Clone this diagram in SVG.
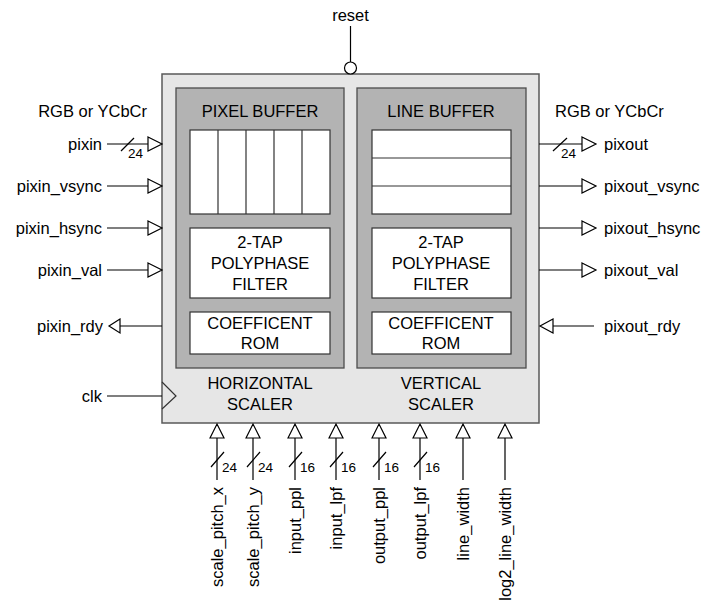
<svg xmlns="http://www.w3.org/2000/svg" width="716" height="601" viewBox="0 0 716 601">
<style>
text{font-family:"Liberation Sans",Arial,sans-serif;font-size:16.5px;fill:#000}
.sm{font-size:13.5px}
.c{text-anchor:middle}
.e{text-anchor:end}
.w{stroke:#000;stroke-width:1.2;fill:none}
.tri{stroke:#000;stroke-width:1.2;fill:#fff}
.outer{fill:#e6e6e6;stroke:#595959;stroke-width:1.5}
.inner{fill:#b3b3b3;stroke:#4d4d4d;stroke-width:1.3}
.wb{fill:#fff;stroke:#333;stroke-width:1.2}
</style>
<rect width="716" height="601" fill="#fff"/>
<g id="scaler">
<rect class="outer" x="162" y="74" width="377" height="349"/>
<path class="w" d="M162,382 L176,396 L162,409" style="stroke:#333"/>
<text class="c" x="260" y="389">HORIZONTAL</text>
<text class="c" x="260" y="410">SCALER</text>
<text class="c" x="441" y="389">VERTICAL</text>
<text class="c" x="441" y="410">SCALER</text>
</g>
<g id="horizontal">
<rect class="inner" x="176" y="88" width="168" height="280"/>
<text class="c" x="260" y="117">PIXEL BUFFER</text>
<rect class="wb" x="190" y="130" width="140" height="84"/>
<path class="w" d="M218,130V214M246,130V214M274,130V214M302,130V214" style="stroke:#333"/>
<rect class="wb" x="190" y="228" width="140" height="70"/>
<text class="c" x="260" y="248">2-TAP</text>
<text class="c" x="260" y="269">POLYPHASE</text>
<text class="c" x="260" y="290">FILTER</text>
<rect class="wb" x="190" y="312" width="140" height="42"/>
<text class="c" x="260" y="329">COEFFICENT</text>
<text class="c" x="260" y="349">ROM</text>
</g>
<g id="vertical">
<rect class="inner" x="357" y="88" width="169" height="280"/>
<text class="c" x="441" y="117">LINE BUFFER</text>
<rect class="wb" x="372" y="130" width="139" height="84"/>
<path class="w" d="M372,158H511M372,186H511" style="stroke:#333"/>
<rect class="wb" x="372" y="228" width="139" height="70"/>
<text class="c" x="441" y="248">2-TAP</text>
<text class="c" x="441" y="269">POLYPHASE</text>
<text class="c" x="441" y="290">FILTER</text>
<rect class="wb" x="372" y="312" width="139" height="42"/>
<text class="c" x="441" y="329">COEFFICENT</text>
<text class="c" x="441" y="349">ROM</text>
</g>
<g id="connectors">
<line class="w" x1="350.5" y1="26" x2="350.5" y2="62"/>
<circle class="tri" cx="350.5" cy="68" r="6"/>
<path class="w" d="M107,144H148M107,186H148M107,228H148M107,270H148M107,396H162M120,326H162"/>
<path class="tri" d="M148,137L162,144L148,151ZM148,179L162,186L148,193ZM148,221L162,228L148,235ZM148,263L162,270L148,277Z"/>
<path class="tri" d="M120,319L109,326L120,333Z"/>
<line class="w" x1="121" y1="151" x2="134" y2="138"/>
<path class="w" d="M539,144H582M539,186H582M539,228H582M539,270H582M553,326H594"/>
<path class="tri" d="M582,137L596,144L582,151ZM582,179L596,186L582,193ZM582,221L596,228L582,235ZM582,263L596,270L582,277Z"/>
<path class="tri" d="M553,319L540,326L553,333Z"/>
<line class="w" x1="553" y1="151" x2="567" y2="138"/>
<path class="w" d="M217,438V480M253,438V480M295,438V480M336,438V480M379,438V480M420,438V480M463,438V480M505,438V480"/>
<path class="tri" d="M210,438L217,424L224,438ZM246,438L253,424L260,438ZM288,438L295,424L302,438ZM329,438L336,424L343,438ZM372,438L379,424L386,438ZM413,438L420,424L427,438ZM456,438L463,424L470,438ZM498,438L505,424L512,438Z"/>
<path class="w" d="M211,467L224,452M247,467L260,452M289,467L302,452M330,467L343,452M373,467L386,452M414,467L427,452"/>
</g>
<g id="labels">
<text x="350.5" y="21" class="c">reset</text>
<text x="147" y="117" class="e">RGB or YCbCr</text>
<text x="102" y="150" class="e">pixin</text>
<text x="102" y="192" class="e">pixin_vsync</text>
<text x="102" y="234" class="e">pixin_hsync</text>
<text x="102" y="276" class="e">pixin_val</text>
<text x="103" y="332" class="e">pixin_rdy</text>
<text x="102" y="402" class="e">clk</text>
<text x="128" y="158" class="sm">24</text>
<text x="555" y="117">RGB or YCbCr</text>
<text x="604" y="150">pixout</text>
<text x="604" y="192">pixout_vsync</text>
<text x="604" y="234">pixout_hsync</text>
<text x="604" y="276">pixout_val</text>
<text x="604" y="332">pixout_rdy</text>
<text x="561" y="158" class="sm">24</text>
<text x="222" y="472" class="sm">24</text>
<text x="258" y="472" class="sm">24</text>
<text x="300" y="472" class="sm">16</text>
<text x="341" y="472" class="sm">16</text>
<text x="384" y="472" class="sm">16</text>
<text x="425" y="472" class="sm">16</text>
<text class="e" transform="translate(223,487) rotate(-90)">scale_pitch_x</text>
<text class="e" transform="translate(259,487) rotate(-90)">scale_pitch_y</text>
<text class="e" transform="translate(301,487) rotate(-90)">input_ppl</text>
<text class="e" transform="translate(342,487) rotate(-90)">input_lpf</text>
<text class="e" transform="translate(385,487) rotate(-90)">output_ppl</text>
<text class="e" transform="translate(426,487) rotate(-90)">output_lpf</text>
<text class="e" transform="translate(469,487) rotate(-90)">line_width</text>
<text class="e" transform="translate(511,487) rotate(-90)">log2_line_width</text>
</g>
</svg>
